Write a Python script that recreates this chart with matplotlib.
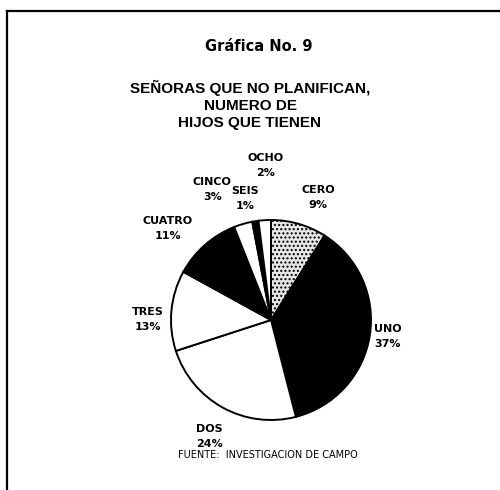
import numpy as np
import matplotlib
matplotlib.use("Agg")
import matplotlib.pyplot as plt

plt.rcParams["font.family"] = ["Liberation Sans", "DejaVu Sans"]

categories = ["CERO", "UNO", "DOS", "TRES", "CUATRO", "CINCO", "SEIS", "OCHO"]
percentages = [9, 37, 24, 13, 11, 3, 1, 2]
colors = ["#e6e6e6", "black", "white", "white", "black", "white", "black", "white"]

# label placement: distance (in radii) and angle shift (deg) from wedge middle
label_dist = [1.31, 1.18, 1.32, 1.23, 1.38, 1.43, 1.24, 1.55]
label_shift = [-5, 1, 1, 5, 7, 8, 3, -1.5]

W, H = 500, 490
CENTER = (271, H - 320)
RADIUS = 100


def main():
    fig = plt.figure(figsize=(W / 100, H / 100), dpi=100)
    ax = fig.add_axes([0, 0, 1, 1])

    wedges, _ = ax.pie(
        percentages,
        colors=colors,
        startangle=90,
        counterclock=False,
        center=CENTER,
        radius=RADIUS,
        wedgeprops=dict(edgecolor="black", linewidth=1.4),
    )
    wedges[0].set_hatch("....")

    for w, name, pct, d, s in zip(wedges, categories, percentages, label_dist, label_shift):
        mid = np.deg2rad((w.theta1 + w.theta2) / 2 + s)
        x = CENTER[0] + RADIUS * d * np.cos(mid)
        y = CENTER[1] + RADIUS * d * np.sin(mid)
        ax.text(x, y, f"{name}\n{pct}%", ha="center", va="center",
                fontsize=8, family="DejaVu Sans", fontweight="bold",
                linespacing=1.6)

    ax.set_xlim(0, W)
    ax.set_ylim(0, H)
    ax.set_aspect("auto")
    ax.axis("off")

    # frame (top and left sides only)
    ax.plot([7, W], [H - 11, H - 11], color="black", lw=1.6, clip_on=False)
    ax.plot([7, 7], [H - 11, 0], color="black", lw=1.6, clip_on=False)

    ax.text(259, H - 47, "Gráfica No. 9", ha="center", va="center",
            fontsize=10.5, family="DejaVu Sans", fontweight="bold")
    ax.text(250, H - 105, "SEÑORAS QUE NO PLANIFICAN,\nNUMERO DE\nHIJOS QUE TIENEN",
            ha="center", va="center", fontsize=11, fontweight="bold",
            linespacing=1.3)
    ax.text(268, H - 455, "FUENTE:  INVESTIGACION DE CAMPO", ha="center",
            va="center", fontsize=7, family="DejaVu Sans")

    fig.savefig("out.png", dpi=100)
    plt.close(fig)


if __name__ == "__main__":
    main()
